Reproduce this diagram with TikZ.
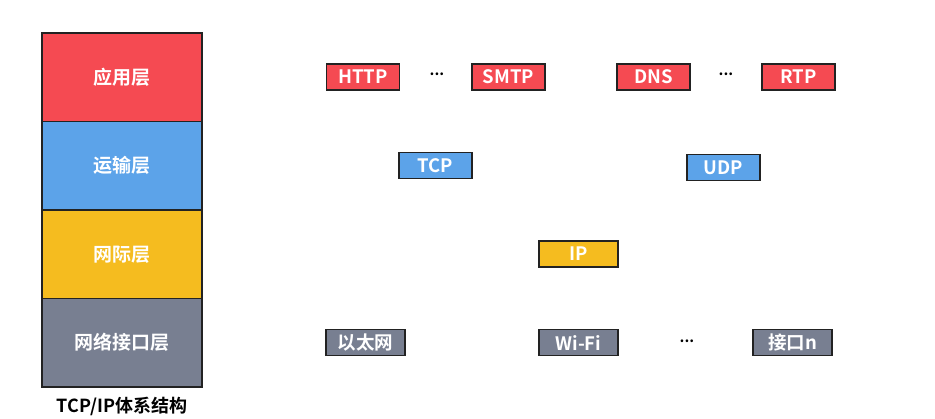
\documentclass[tikz,border=0pt]{standalone}
\usepackage{fontspec}
\setmainfont{Noto Sans CJK SC}[BoldFont={* Bold}]
\definecolor{cred}{HTML}{F54A52}
\definecolor{cblue}{HTML}{5CA3E9}
\definecolor{cyellow}{HTML}{F5BC1F}
\definecolor{cgray}{HTML}{787F91}
\definecolor{cborder}{HTML}{222222}
\begin{document}
\begin{tikzpicture}[x=1pt,y=-1pt,
  layer/.style={draw=cborder,line width=1.2pt,minimum width=160pt,minimum height=88.5pt,inner sep=0pt,text=white,font=\bfseries\fontsize{19}{19}\selectfont},
  proto/.style={draw=cborder,line width=1.2pt,minimum width=73pt,minimum height=26pt,inner sep=0pt,text=white,font=\bfseries\fontsize{18.5}{18.5}\selectfont},
  dotsstyle/.style={inner sep=0pt,font=\bfseries\fontsize{15}{15}\selectfont}]
\useasboundingbox (0,0) rectangle (935,418);
\fill[white] (0,0) rectangle (935,418);
% layers
\node[layer,fill=cred]    (app)  at (122,77.25)  {应用层};
\node[layer,fill=cblue]   (tr)   at (122,165.75) {运输层};
\node[layer,fill=cyellow] (net)  at (122,254.25) {网际层};
\node[layer,fill=cgray]   (link) at (122,342.75) {网络接口层};
\node[font=\bfseries\fontsize{18}{18}\selectfont,inner sep=0pt] (title) at (122,406) {TCP/IP体系结构};
% application
\node[proto,fill=cred] (http) at (363,77) {HTTP};
\node[dotsstyle] (d1) at (437,74) {...};
\node[proto,fill=cred] (smtp) at (508.5,77) {SMTP};
\node[proto,fill=cred] (dns) at (653.5,77) {DNS};
\node[dotsstyle] (d2) at (726,74) {...};
\node[proto,fill=cred] (rtp) at (798.5,77) {RTP};
% transport
\node[proto,fill=cblue] (tcp) at (435.5,165.5) {TCP};
\node[proto,fill=cblue] (udp) at (723.5,167.5) {UDP};
% internet
\node[proto,fill=cyellow,minimum width=79pt] (ip) at (578.5,254) {IP};
% link
\node[proto,fill=cgray,minimum width=79pt] (eth) at (365.5,342.5) {以太网};
\node[proto,fill=cgray,minimum width=79pt] (wifi) at (578.5,342.5) {Wi-Fi};
\node[dotsstyle] (d3) at (687,341) {...};
\node[proto,fill=cgray,minimum width=79pt] (ifn) at (792.5,342.5) {接口n};
\end{tikzpicture}
\end{document}
